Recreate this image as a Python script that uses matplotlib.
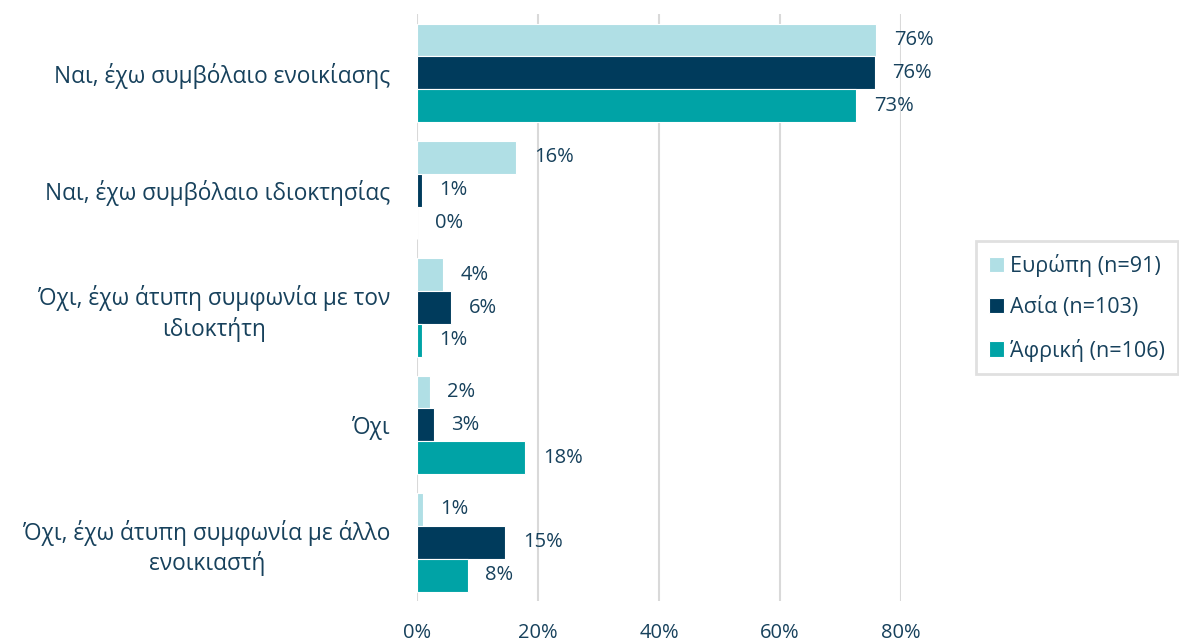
import matplotlib.pyplot as plt
import numpy as np

categories = [
    "Ναι, έχω συμβόλαιο ενοικίασης",
    "Ναι, έχω συμβόλαιο ιδιοκτησίας",
    "Όχι, έχω άτυπη συμφωνία με τον\nιδιοκτήτη",
    "Όχι",
    "Όχι, έχω άτυπη συμφωνία με άλλο\nενοικιαστή",
]
series_names = ["Ευρώπη (n=91)", "Ασία (n=103)", "Άφρική (n=106)"]
europe = [75.9, 16.4, 4.3, 2.1, 1.0]
asia = [75.7, 0.8, 5.6, 2.8, 14.6]
africa = [72.6, 0.0, 0.8, 17.9, 8.4]
colors = ["#b0dfe5", "#003b5c", "#00a3a6"]

text_color = "#17415c"
plt.rcParams["font.family"] = ["Open Sans", "DejaVu Sans"]

fig = plt.figure(figsize=(11.79, 6.42), dpi=100)
ax = fig.add_axes([0.3537, 0.0639, 0.4105, 0.9141])

n = len(categories)
y = np.arange(n)
h = 0.28
for i, (vals, name, c) in enumerate(zip([europe, asia, africa], series_names, colors)):
    pos = y + (i - 1) * h
    ax.barh(pos, vals, height=h, color=c, edgecolor="white", linewidth=0.8, label=name, zorder=3)
    for p, v in zip(pos, vals):
        ax.text(v + 2.9, p, f"{round(v):.0f}%", va="center", ha="left",
                fontsize=14.5, color=text_color, clip_on=False)

ax.set_ylim(n - 0.5, -0.5)
ax.set_xlim(0, 80)
ax.set_xticks([0, 20, 40, 60, 80])
ax.set_xticklabels(["0%", "20%", "40%", "60%", "80%"])
ax.set_yticks(y)
ax.set_yticklabels(categories, multialignment="center", linespacing=1.3)
ax.tick_params(axis="both", length=0, colors=text_color, labelsize=16.3)
ax.tick_params(axis="x", labelsize=14.5)
ax.tick_params(axis="y", pad=19)
ax.tick_params(axis="x", pad=16)
ax.grid(axis="x", color="#d9d9d9", linewidth=1.5, zorder=0)
for s in ax.spines.values():
    s.set_visible(False)

leg = ax.legend(loc="center left", bbox_to_anchor=(1.155, 0.5), frameon=True, fancybox=False,
                fontsize=15.5, handlelength=0.7, handleheight=0.7, handletextpad=0.3,
                labelspacing=0.95, borderpad=0.6, borderaxespad=0)
leg.get_frame().set_edgecolor("#d9d9d9")
leg.get_frame().set_linewidth(2)
for t in leg.get_texts():
    t.set_color(text_color)

fig.savefig("out.png", dpi=100)
